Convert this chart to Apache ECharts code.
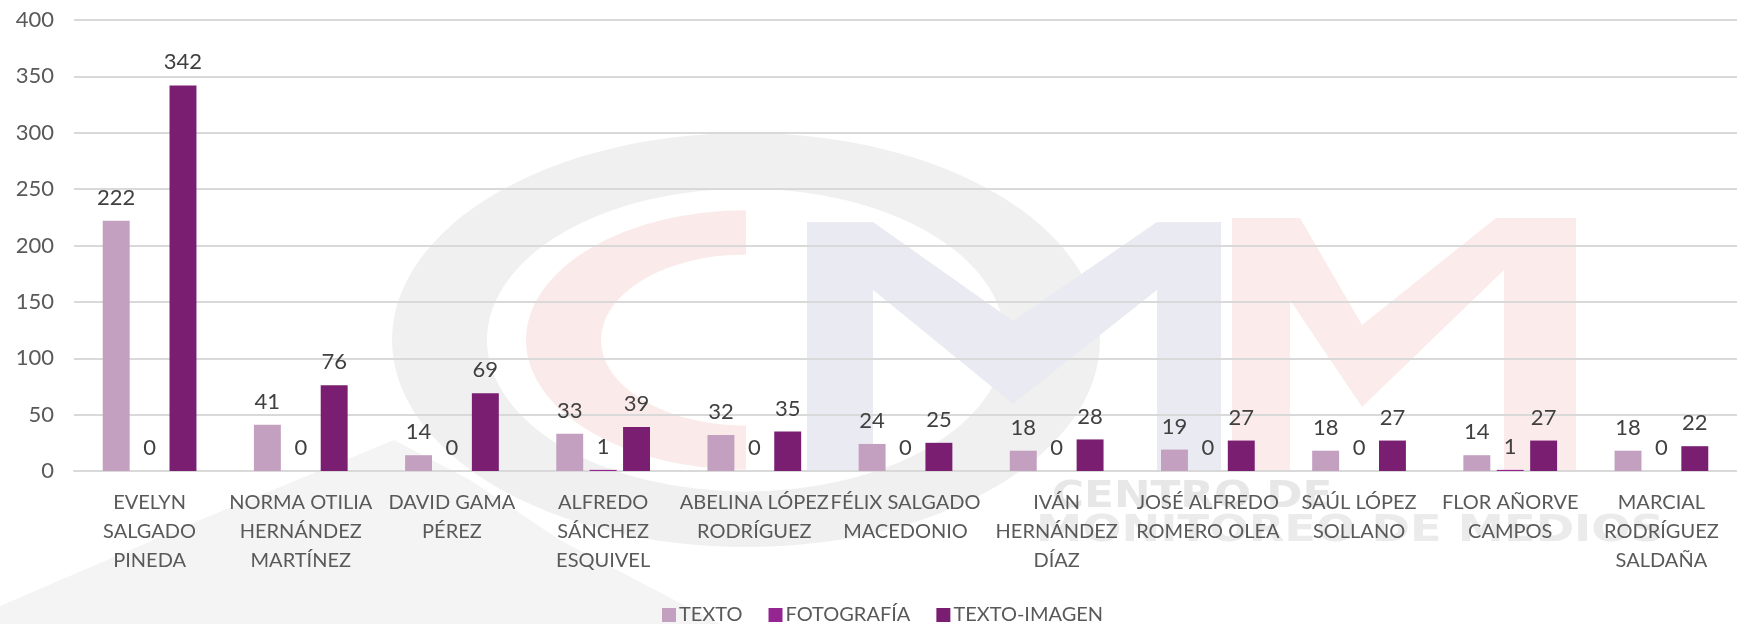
<!DOCTYPE html>
<html>
<head>
<meta charset="utf-8">
<script src="https://cdn.jsdelivr.net/npm/echarts@6/dist/echarts.min.js"></script>
<style>
html,body{margin:0;padding:0;background:#fff;}
#chart{width:1737px;height:624px;}
</style>
</head>
<body>
<div id="chart"></div>
<script>
const categories = [
  'EVELYN\nSALGADO\nPINEDA',
  'NORMA OTILIA\nHERNÁNDEZ\nMARTÍNEZ',
  'DAVID GAMA\nPÉREZ',
  'ALFREDO\nSÁNCHEZ\nESQUIVEL',
  'ABELINA LÓPEZ\nRODRÍGUEZ',
  'FÉLIX SALGADO\nMACEDONIO',
  'IVÁN\nHERNÁNDEZ\nDÍAZ',
  'JOSÉ ALFREDO\nROMERO OLEA',
  'SAÚL LÓPEZ\nSOLLANO',
  'FLOR AÑORVE\nCAMPOS',
  'MARCIAL\nRODRÍGUEZ\nSALDAÑA'
];
const seriesNames = ['TEXTO', 'FOTOGRAFÍA', 'TEXTO-IMAGEN'];
const texto = [222, 41, 14, 33, 32, 24, 18, 19, 18, 14, 18];
const fotografia = [0, 0, 0, 1, 0, 0, 0, 0, 0, 1, 0];
const textoImagen = [342, 76, 69, 39, 35, 25, 28, 27, 27, 27, 22];
const yTicks = [0, 50, 100, 150, 200, 250, 300, 350, 400];

const colors = ['#C3A0C0', '#952590', '#7A1E71'];
const FONT = 'Lato, "Open Sans", sans-serif';

const chart = echarts.init(document.getElementById('chart'), null, {renderer: 'canvas'});

const labelCfg = {
  show: true,
  position: 'top',
  distance: 12,
  color: '#404040',
  fontSize: 22,
  fontFamily: FONT
};

function mkSeries(name, data, color) {
  return {
    name: name,
    type: 'bar',
    data: data,
    itemStyle: {color: color},
    label: labelCfg,
    barGap: '24%',
    barCategoryGap: '38%',
    animation: false
  };
}

// faint background logo watermark (decorative)
const WM_FONT = 'bold 38px "DejaVu Sans", sans-serif';
const watermark = [
  {type: 'polygon', z: -10, silent: true,
    shape: {points: [[0, 624], [0, 606], [200, 520], [394, 440], [470, 480], [560, 540], [720, 624]]},
    style: {fill: '#F4F4F4'}},
  {type: 'ring', z: -9, silent: true,
    shape: {cx: 746, cy: 340, r: 354, r0: 259},
    scaleY: 0.585, originX: 746, originY: 340,
    style: {fill: '#F0F0F0'}},
  {type: 'sector', z: -8, silent: true,
    shape: {cx: 746, cy: 340, r: 220, r0: 145, startAngle: Math.PI / 2, endAngle: Math.PI * 1.5, clockwise: true},
    scaleY: 0.59, originX: 746, originY: 340,
    style: {fill: '#FBEAEA'}},
  {type: 'polygon', z: -8, silent: true,
    shape: {points: [[807, 470], [807, 222], [873, 222], [1013, 321], [1157, 222], [1221, 222], [1221, 470], [1157, 470], [1157, 290], [1013, 404], [873, 290], [873, 470]]},
    style: {fill: '#EAEAF2'}},
  {type: 'polygon', z: -8, silent: true,
    shape: {points: [[1232, 470], [1232, 218], [1300, 218], [1362, 325], [1496, 218], [1576, 218], [1576, 470], [1504, 470], [1504, 270], [1362, 407], [1290, 300], [1290, 470]]},
    style: {fill: '#FBEBEB'}},
  {type: 'text', z: -7, silent: true, x: 1052, y: 478, scaleX: 1.15, originX: 0, originY: 0,
    style: {text: 'CENTRO DE', fill: '#E7E7E7', font: WM_FONT}},
  {type: 'text', z: -7, silent: true, x: 1036, y: 512, scaleX: 1.22, originX: 0, originY: 0,
    style: {text: 'MONITOREO DE MEDIOS', fill: '#EBEBEB', font: WM_FONT}}
];

chart.setOption({
  animation: false,
  color: colors,
  textStyle: {fontFamily: FONT},
  graphic: {elements: watermark},
  grid: {left: 74, top: 20, width: 1676, bottom: 153, containLabel: false},
  legend: {
    data: seriesNames,
    left: 657,
    top: 600,
    itemWidth: 14,
    itemHeight: 14,
    itemGap: 26,
    icon: 'rect',
    textStyle: {color: '#595959', fontSize: 20, fontFamily: FONT, padding: [0, 0, 0, -2]}
  },
  xAxis: {
    type: 'category',
    data: categories,
    axisLine: {show: true, lineStyle: {color: '#D9D9D9', width: 2}},
    axisTick: {show: false},
    axisLabel: {
      interval: 0,
      color: '#595959',
      fontSize: 20,
      lineHeight: 29,
      margin: 17,
      fontFamily: FONT
    }
  },
  yAxis: {
    type: 'value',
    min: yTicks[0],
    max: yTicks[yTicks.length - 1],
    interval: 50,
    axisLine: {show: false},
    axisTick: {show: false},
    axisLabel: {color: '#595959', fontSize: 22, margin: 20, fontFamily: FONT},
    splitLine: {lineStyle: {color: '#D9D9D9', width: 2}}
  },
  series: [
    mkSeries(seriesNames[0], texto, colors[0]),
    mkSeries(seriesNames[1], fotografia, colors[1]),
    mkSeries(seriesNames[2], textoImagen, colors[2])
  ]
});
</script>
</body>
</html>
